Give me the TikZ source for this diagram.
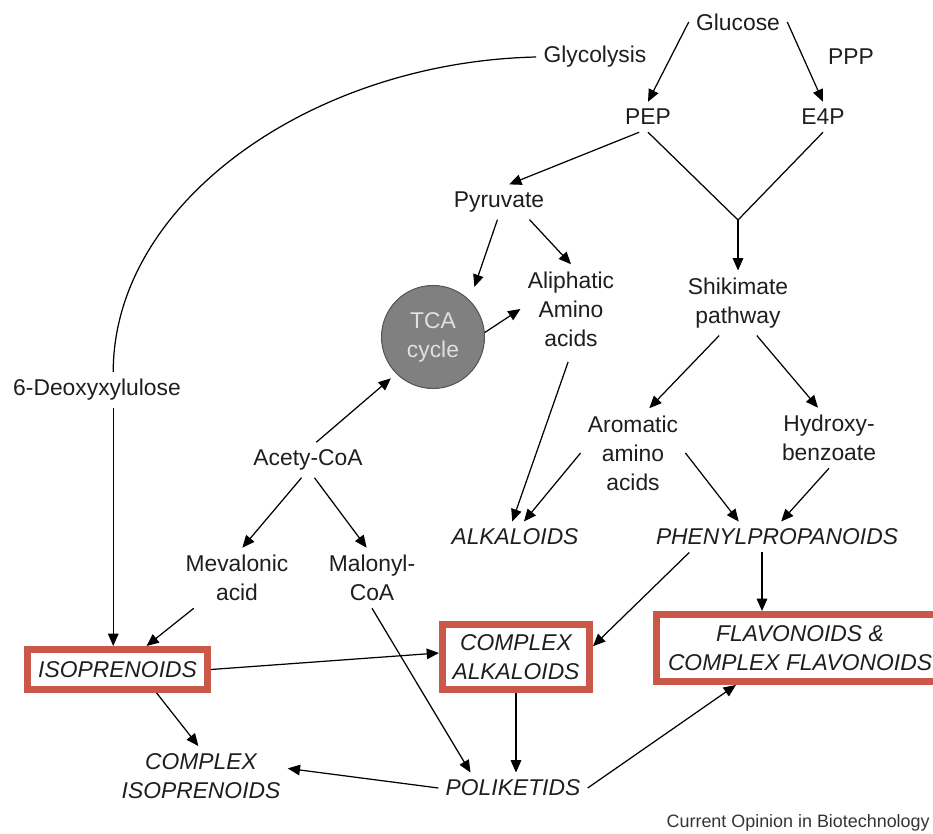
\documentclass[tikz,border=0pt]{standalone}
\usepackage{fontspec}
\setmainfont{Liberation Sans}
\usetikzlibrary{arrows.meta,calc}
\definecolor{boxred}{RGB}{201,88,74}
\definecolor{tcagray}{RGB}{128,128,128}
\definecolor{tcaedge}{RGB}{85,85,85}
\definecolor{inkgray}{RGB}{30,30,30}

\begin{document}
\begin{tikzpicture}[x=0.02cm,y=-0.02cm,
	lbl/.style={font=\fontsize{13}{16.5}\selectfont, text=inkgray, align=center, inner sep=4pt},
	prod/.style={lbl, font=\fontsize{13}{16.5}\selectfont\itshape},
	redbox/.style={prod, draw=boxred, line width=0.14cm, inner sep=0pt},
	arr/.style={-{Triangle[length=7pt,width=6pt]}, line width=0.7pt},
	link/.style={line width=0.7pt}]
	\useasboundingbox (0,0) rectangle (933,834);
	
	% sugars
	\node[lbl] (glucose) at (738,22) {Glucose};
	\node[lbl] (glycolysis) at (595,57) {Glycolysis};
	\node[lbl] (ppp) at (851,57) {PPP};
	\node[lbl] (pep) at (648,117) {PEP};
	\node[lbl] (e4p) at (823,117) {E4P};
	\node[lbl] (pyruvate) at (499,202) {Pyruvate};
	\coordinate (vjoin) at (738,220);
	
	% primary metabolites
	\node[lbl] (aliphatic) at (571,309) {Aliphatic\\Amino\\acids};
	\node[circle, fill=tcagray, draw=tcaedge, line width=0.6pt, minimum size=2.06cm,
		font=\fontsize{13}{16.5}\selectfont, text=white!88!black, align=center] (tca) at (433,337) {TCA\\cycle};
	\node[lbl] (shikimate) at (738,303) {Shikimate\\pathway};
	\node[lbl] (deoxy) at (97,390) {6-Deoxyxylulose};
	\node[lbl] (acety) at (308,460) {Acety-CoA};
	\node[lbl] (aromatic) at (633,453) {Aromatic\\amino\\acids};
	\node[lbl] (hydroxy) at (829,438) {Hydroxy-\\benzoate};
	\node[lbl] (mevalonic) at (237,578) {Mevalonic\\acid};
	\node[lbl] (malonyl) at (372,578) {Malonyl-\\CoA};
	
	% products
	\node[prod] (alkaloids) at (515,537) {ALKALOIDS};
	\node[prod] (phenyl) at (777,537) {PHENYLPROPANOIDS};
	\node[redbox, minimum width=3.6cm, minimum height=0.8cm] (isopren) at (117.5,669.5) {ISOPRENOIDS};
	\node[redbox, minimum width=2.94cm, minimum height=1.3cm] (cplxalk) at (516,657) {COMPLEX\\ALKALOIDS};
	\node[redbox, minimum width=5.74cm, minimum height=1.34cm] (flav) at (800,648) {FLAVONOIDS \&\\COMPLEX FLAVONOIDS};
	\node[prod] (cplxiso) at (201,776) {COMPLEX\\ISOPRENOIDS};
	\node[prod] (poliketids) at (513,788) {POLIKETIDS};
	
	\node[anchor=east, font=\fontsize{10.2}{12}\selectfont, text=black!80, inner sep=0pt] (credit) at (930,823) {Current Opinion in Biotechnology};
	
	% arrows
	\draw[arr] (glucose.west) -- (pep.north);
	\draw[arr] (glucose.east) -- (e4p.north);
	\draw[arr] (pep.-120) -- (pyruvate.60);
	\draw[link] (pep.south) -- (vjoin) -- (e4p.south);
	\draw[arr] (vjoin) -- (shikimate.north);
	\draw[arr, shorten >=8pt] (pyruvate.-95) -- (tca.north east);
	\draw[arr] (pyruvate.-30) -- (aliphatic.north);
	\draw[arr] (tca.5) -- (aliphatic.west);
	\draw[arr, shorten <=5pt] (aliphatic.south) -- (alkaloids.100);
	\draw[arr] (shikimate.-120) -- (aromatic.70);
	\draw[arr] (shikimate.-60) -- (hydroxy.110);
	\draw[arr, shorten >=4pt] (acety.65) -- (tca.-135);
	\draw[arr] (aromatic.west) -- (alkaloids.60);
	\draw[arr] (aromatic.east) -- (phenyl.158);
	\draw[arr] (hydroxy.south) -- (phenyl.75);
	\draw[arr] (acety.-110) -- (mevalonic.80);
	\draw[arr] (acety.-70) -- (malonyl.100);
	\draw[arr] (mevalonic.-145) -- (isopren.39);
	\draw[link] (glycolysis.west) .. controls +(-224,5) and +(0,-170) .. (deoxy.48);
	\draw[arr] (deoxy.-48) -- (deoxy.-48 |- isopren.north);
	\draw[arr] (isopren.east) -- (cplxalk.177);
	\draw[arr] (phenyl.-170) -- (cplxalk.8);
	\draw[arr] ([xshift=-0.3cm]phenyl.south) -- ([xshift=-0.3cm]phenyl.south |- flav.north);
	\draw[arr] (malonyl.south) -- (poliketids.160);
	\draw[arr] (cplxalk.south) -- (cplxalk.south |- poliketids.north);
	\draw[arr] (isopren.-31) -- (cplxiso.95);
	\draw[arr] (poliketids.west) -- (cplxiso.5);
	\draw[arr] (poliketids.east) -- (flav.-150);
\end{tikzpicture}
\end{document}
